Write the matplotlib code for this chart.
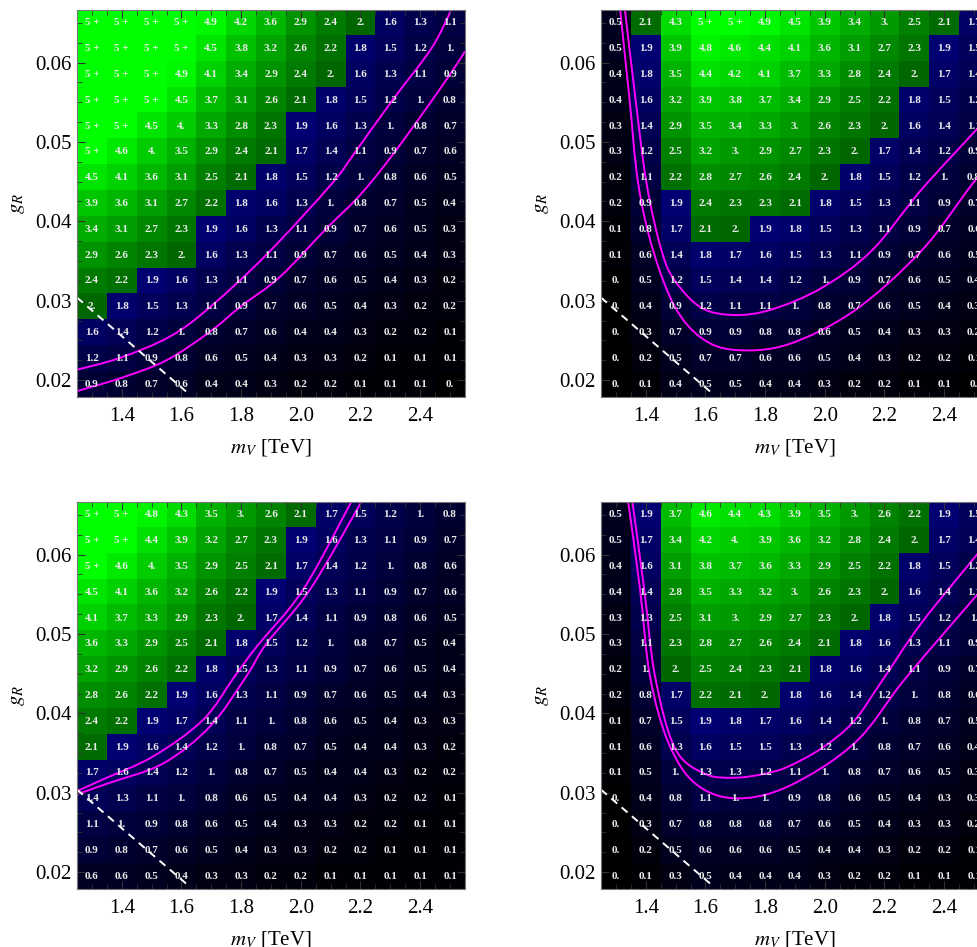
import numpy as np
import matplotlib.pyplot as plt
from matplotlib.path import Path
from matplotlib.patches import PathPatch
from matplotlib.ticker import MultipleLocator, FormatStrFormatter

plt.rcParams['font.family'] = 'Liberation Serif'
plt.rcParams['mathtext.fontset'] = 'stix'

P = 5.5  # cells printed as "5 +"

# column centres (m_V in TeV) and row centres (g_R), top row first
m_V = [1.3, 1.4, 1.5, 1.6, 1.7, 1.8, 1.9, 2.0, 2.1, 2.2, 2.3, 2.4, 2.5]
g_R = [0.065, 0.06175, 0.0585, 0.05525, 0.052, 0.04875, 0.0455, 0.04225,
       0.039, 0.03575, 0.0325, 0.02925, 0.026, 0.02275, 0.0195]

tl_vals = [
    [P, P, P, P, 4.9, 4.2, 3.6, 2.9, 2.4, 2.0, 1.6, 1.3, 1.1],
    [P, P, P, P, 4.5, 3.8, 3.2, 2.6, 2.2, 1.8, 1.5, 1.2, 1.0],
    [P, P, P, 4.9, 4.1, 3.4, 2.9, 2.4, 2.0, 1.6, 1.3, 1.1, 0.9],
    [P, P, P, 4.5, 3.7, 3.1, 2.6, 2.1, 1.8, 1.5, 1.2, 1.0, 0.8],
    [P, P, 4.5, 4.0, 3.3, 2.8, 2.3, 1.9, 1.6, 1.3, 1.0, 0.8, 0.7],
    [P, 4.6, 4.0, 3.5, 2.9, 2.4, 2.1, 1.7, 1.4, 1.1, 0.9, 0.7, 0.6],
    [4.5, 4.1, 3.6, 3.1, 2.5, 2.1, 1.8, 1.5, 1.2, 1.0, 0.8, 0.6, 0.5],
    [3.9, 3.6, 3.1, 2.7, 2.2, 1.8, 1.6, 1.3, 1.0, 0.8, 0.7, 0.5, 0.4],
    [3.4, 3.1, 2.7, 2.3, 1.9, 1.6, 1.3, 1.1, 0.9, 0.7, 0.6, 0.5, 0.3],
    [2.9, 2.6, 2.3, 2.0, 1.6, 1.3, 1.1, 0.9, 0.7, 0.6, 0.5, 0.4, 0.3],
    [2.4, 2.2, 1.9, 1.6, 1.3, 1.1, 0.9, 0.7, 0.6, 0.5, 0.4, 0.3, 0.2],
    [2.0, 1.8, 1.5, 1.3, 1.1, 0.9, 0.7, 0.6, 0.5, 0.4, 0.3, 0.2, 0.2],
    [1.6, 1.4, 1.2, 1.0, 0.8, 0.7, 0.6, 0.4, 0.4, 0.3, 0.2, 0.2, 0.1],
    [1.2, 1.1, 0.9, 0.8, 0.6, 0.5, 0.4, 0.3, 0.3, 0.2, 0.1, 0.1, 0.1],
    [0.9, 0.8, 0.7, 0.6, 0.4, 0.4, 0.3, 0.2, 0.2, 0.1, 0.1, 0.1, 0.0],
]

tr_vals = [
    [0.5, 2.1, 4.3, P, P, 4.9, 4.5, 3.9, 3.4, 3.0, 2.5, 2.1, 1.7],
    [0.5, 1.9, 3.9, 4.8, 4.6, 4.4, 4.1, 3.6, 3.1, 2.7, 2.3, 1.9, 1.5],
    [0.4, 1.8, 3.5, 4.4, 4.2, 4.1, 3.7, 3.3, 2.8, 2.4, 2.0, 1.7, 1.4],
    [0.4, 1.6, 3.2, 3.9, 3.8, 3.7, 3.4, 2.9, 2.5, 2.2, 1.8, 1.5, 1.2],
    [0.3, 1.4, 2.9, 3.5, 3.4, 3.3, 3.0, 2.6, 2.3, 2.0, 1.6, 1.4, 1.1],
    [0.3, 1.2, 2.5, 3.2, 3.0, 2.9, 2.7, 2.3, 2.0, 1.7, 1.4, 1.2, 0.9],
    [0.2, 1.1, 2.2, 2.8, 2.7, 2.6, 2.4, 2.0, 1.8, 1.5, 1.2, 1.0, 0.8],
    [0.2, 0.9, 1.9, 2.4, 2.3, 2.3, 2.1, 1.8, 1.5, 1.3, 1.1, 0.9, 0.7],
    [0.1, 0.8, 1.7, 2.1, 2.0, 1.9, 1.8, 1.5, 1.3, 1.1, 0.9, 0.7, 0.6],
    [0.1, 0.6, 1.4, 1.8, 1.7, 1.6, 1.5, 1.3, 1.1, 0.9, 0.7, 0.6, 0.5],
    [0.0, 0.5, 1.2, 1.5, 1.4, 1.4, 1.2, 1.0, 0.9, 0.7, 0.6, 0.5, 0.4],
    [0.0, 0.4, 0.9, 1.2, 1.1, 1.1, 1.0, 0.8, 0.7, 0.6, 0.5, 0.4, 0.3],
    [0.0, 0.3, 0.7, 0.9, 0.9, 0.8, 0.8, 0.6, 0.5, 0.4, 0.3, 0.3, 0.2],
    [0.0, 0.2, 0.5, 0.7, 0.7, 0.6, 0.6, 0.5, 0.4, 0.3, 0.2, 0.2, 0.1],
    [0.0, 0.1, 0.4, 0.5, 0.5, 0.4, 0.4, 0.3, 0.2, 0.2, 0.1, 0.1, 0.0],
]

bl_vals = [
    [P, P, 4.8, 4.3, 3.5, 3.0, 2.6, 2.1, 1.7, 1.5, 1.2, 1.0, 0.8],
    [P, P, 4.4, 3.9, 3.2, 2.7, 2.3, 1.9, 1.6, 1.3, 1.1, 0.9, 0.7],
    [P, 4.6, 4.0, 3.5, 2.9, 2.5, 2.1, 1.7, 1.4, 1.2, 1.0, 0.8, 0.6],
    [4.5, 4.1, 3.6, 3.2, 2.6, 2.2, 1.9, 1.5, 1.3, 1.1, 0.9, 0.7, 0.6],
    [4.1, 3.7, 3.3, 2.9, 2.3, 2.0, 1.7, 1.4, 1.1, 0.9, 0.8, 0.6, 0.5],
    [3.6, 3.3, 2.9, 2.5, 2.1, 1.8, 1.5, 1.2, 1.0, 0.8, 0.7, 0.5, 0.4],
    [3.2, 2.9, 2.6, 2.2, 1.8, 1.5, 1.3, 1.1, 0.9, 0.7, 0.6, 0.5, 0.4],
    [2.8, 2.6, 2.2, 1.9, 1.6, 1.3, 1.1, 0.9, 0.7, 0.6, 0.5, 0.4, 0.3],
    [2.4, 2.2, 1.9, 1.7, 1.4, 1.1, 1.0, 0.8, 0.6, 0.5, 0.4, 0.3, 0.3],
    [2.1, 1.9, 1.6, 1.4, 1.2, 1.0, 0.8, 0.7, 0.5, 0.4, 0.4, 0.3, 0.2],
    [1.7, 1.6, 1.4, 1.2, 1.0, 0.8, 0.7, 0.5, 0.4, 0.4, 0.3, 0.2, 0.2],
    [1.4, 1.3, 1.1, 1.0, 0.8, 0.6, 0.5, 0.4, 0.4, 0.3, 0.2, 0.2, 0.1],
    [1.1, 1.0, 0.9, 0.8, 0.6, 0.5, 0.4, 0.3, 0.3, 0.2, 0.2, 0.1, 0.1],
    [0.9, 0.8, 0.7, 0.6, 0.5, 0.4, 0.3, 0.3, 0.2, 0.2, 0.1, 0.1, 0.1],
    [0.6, 0.6, 0.5, 0.4, 0.3, 0.3, 0.2, 0.2, 0.1, 0.1, 0.1, 0.1, 0.1],
]

br_vals = [
    [0.5, 1.9, 3.7, 4.6, 4.4, 4.3, 3.9, 3.5, 3.0, 2.6, 2.2, 1.9, 1.5],
    [0.5, 1.7, 3.4, 4.2, 4.0, 3.9, 3.6, 3.2, 2.8, 2.4, 2.0, 1.7, 1.4],
    [0.4, 1.6, 3.1, 3.8, 3.7, 3.6, 3.3, 2.9, 2.5, 2.2, 1.8, 1.5, 1.2],
    [0.4, 1.4, 2.8, 3.5, 3.3, 3.2, 3.0, 2.6, 2.3, 2.0, 1.6, 1.4, 1.1],
    [0.3, 1.3, 2.5, 3.1, 3.0, 2.9, 2.7, 2.3, 2.0, 1.8, 1.5, 1.2, 1.0],
    [0.3, 1.1, 2.3, 2.8, 2.7, 2.6, 2.4, 2.1, 1.8, 1.6, 1.3, 1.1, 0.9],
    [0.2, 1.0, 2.0, 2.5, 2.4, 2.3, 2.1, 1.8, 1.6, 1.4, 1.1, 0.9, 0.7],
    [0.2, 0.8, 1.7, 2.2, 2.1, 2.0, 1.8, 1.6, 1.4, 1.2, 1.0, 0.8, 0.6],
    [0.1, 0.7, 1.5, 1.9, 1.8, 1.7, 1.6, 1.4, 1.2, 1.0, 0.8, 0.7, 0.5],
    [0.1, 0.6, 1.3, 1.6, 1.5, 1.5, 1.3, 1.2, 1.0, 0.8, 0.7, 0.6, 0.4],
    [0.1, 0.5, 1.0, 1.3, 1.3, 1.2, 1.1, 1.0, 0.8, 0.7, 0.6, 0.5, 0.3],
    [0.0, 0.4, 0.8, 1.1, 1.0, 1.0, 0.9, 0.8, 0.6, 0.5, 0.4, 0.3, 0.3],
    [0.0, 0.3, 0.7, 0.8, 0.8, 0.8, 0.7, 0.6, 0.5, 0.4, 0.3, 0.3, 0.2],
    [0.0, 0.2, 0.5, 0.6, 0.6, 0.6, 0.5, 0.4, 0.4, 0.3, 0.2, 0.2, 0.1],
    [0.0, 0.1, 0.3, 0.5, 0.4, 0.4, 0.4, 0.3, 0.2, 0.2, 0.1, 0.1, 0.1],
]

# magenta contours
tl_c1_x = [1.249, 1.394, 1.562, 1.696, 1.885, 2.103, 2.18, 2.308, 2.438, 2.505]
tl_c1_y = [0.0213, 0.0228, 0.0255, 0.0292, 0.0358, 0.0447, 0.0486, 0.0553, 0.0618, 0.0667]
tl_c2_x = [1.249, 1.40, 1.55, 1.696, 1.796, 1.93, 2.086, 2.176, 2.237, 2.30, 2.388, 2.50, 2.55]
tl_c2_y = [0.0186, 0.0203, 0.0225, 0.0261, 0.0292, 0.0330, 0.0391, 0.0424, 0.0450, 0.0480, 0.0525, 0.0585, 0.0614]

tr_c1_x = [1.330, 1.365, 1.403, 1.453, 1.498, 1.587, 1.698, 1.822, 1.989, 2.157, 2.324, 2.514, 2.55]
tr_c1_y = [0.0667, 0.0556, 0.0447, 0.0363, 0.0325, 0.0291, 0.0282, 0.0289, 0.0316, 0.0363, 0.0440, 0.0518, 0.0535]
tr_c2_x = [1.314, 1.345, 1.375, 1.425, 1.498, 1.587, 1.699, 1.877, 2.101, 2.324, 2.48, 2.55]
tr_c2_y = [0.0667, 0.0556, 0.0447, 0.0363, 0.0292, 0.0253, 0.0238, 0.0245, 0.0288, 0.0363, 0.0440, 0.0475]

bl_c1_x = [1.249, 1.338, 1.506, 1.673, 1.779, 1.852, 2.008, 2.170]
bl_c1_y = [0.0302, 0.0317, 0.0346, 0.0392, 0.0447, 0.0484, 0.0556, 0.0667]
bl_c2_x = [1.249, 1.355, 1.539, 1.697, 1.818, 1.885, 2.031, 2.204]
bl_c2_y = [0.0298, 0.0312, 0.0337, 0.0384, 0.0447, 0.0488, 0.0556, 0.0667]

br_c1_x = [1.355, 1.395, 1.431, 1.498, 1.598, 1.699, 1.799, 1.877, 1.989, 2.095, 2.19, 2.324, 2.514, 2.55]
br_c1_y = [0.0667, 0.0556, 0.0447, 0.0356, 0.0324, 0.0319, 0.0324, 0.0333, 0.0356, 0.0389, 0.0440, 0.0514, 0.0602, 0.0620]
br_c2_x = [1.341, 1.381, 1.414, 1.476, 1.565, 1.699, 1.877, 2.101, 2.27, 2.514, 2.55]
br_c2_y = [0.0667, 0.0556, 0.0447, 0.0363, 0.0312, 0.0293, 0.0308, 0.0363, 0.0444, 0.0551, 0.0567]

# white dashed line (same in all panels)
dash_x = [1.25, 1.63]
dash_y = [0.0304, 0.0181]

panels = [
    (tl_vals, [(tl_c1_x, tl_c1_y), (tl_c2_x, tl_c2_y)], [0.0787, 0.5808, 0.3967, 0.4087]),
    (tr_vals, [(tr_c1_x, tr_c1_y), (tr_c2_x, tr_c2_y)], [0.6145, 0.5808, 0.3967, 0.4087]),
    (bl_vals, [(bl_c1_x, bl_c1_y), (bl_c2_x, bl_c2_y)], [0.0787, 0.0612, 0.3967, 0.4087]),
    (br_vals, [(br_c1_x, br_c1_y), (br_c2_x, br_c2_y)], [0.6145, 0.0612, 0.3967, 0.4087]),
]

dx = 0.1
dy = 0.00325
x0, x1 = m_V[0] - dx / 2, m_V[-1] + dx / 2
y0, y1 = g_R[-1] - dy / 2, g_R[0] + dy / 2


def cell_label(v):
    if v >= 5:
        return "5 +"
    s = "%.1f" % v
    if s.endswith(".0"):
        s = s[:-1]
    return s


def cell_colours(vals):
    v = np.array(vals, dtype=float)
    rgb = np.zeros(v.shape + (3,))
    green = v >= 2
    rgb[..., 1] = np.where(green, np.clip(v / 5, 0, 1), 0)
    rgb[..., 2] = np.where(green, 0, np.clip(v / 4.2, 0, 1))
    return rgb


def smooth_path(xs, ys):
    # Catmull-Rom through the read points, drawn as cubic Bezier segments
    p = np.column_stack([xs, ys])
    ext = np.vstack([p[0], p, p[-1]])
    verts = [p[0]]
    codes = [Path.MOVETO]
    for i in range(1, len(ext) - 2):
        a, b, c, d = ext[i - 1], ext[i], ext[i + 1], ext[i + 2]
        verts += [b + (c - a) / 6, c - (d - b) / 6, c]
        codes += [Path.CURVE4] * 3
    return Path(verts, codes)


fig = plt.figure(figsize=(9.78, 9.47), dpi=100)

for vals, curves, pos in panels:
    ax = fig.add_axes(pos)
    ax.imshow(cell_colours(vals), extent=[x0, x1, y0, y1], aspect='auto',
              interpolation='nearest', origin='upper')
    for i, gy in enumerate(g_R):
        for j, mx in enumerate(m_V):
            ax.text(mx, gy, cell_label(vals[i][j]), ha='center', va='center',
                    color='#ececec', fontsize=8, fontweight='bold')
    for cx, cy in curves:
        ax.add_patch(PathPatch(smooth_path(cx, cy), fill=False,
                               edgecolor='#ff00ff', lw=1.4))
    ax.plot(dash_x, dash_y, color='white', lw=1.4, ls=(0, (4, 3)))
    ax.set_xlim(x0, x1)
    ax.set_ylim(y0, y1)

    ax.xaxis.set_major_locator(MultipleLocator(0.2))
    ax.xaxis.set_minor_locator(MultipleLocator(0.05))
    ax.yaxis.set_major_locator(MultipleLocator(0.01))
    ax.yaxis.set_minor_locator(MultipleLocator(0.0025))
    ax.xaxis.set_major_formatter(FormatStrFormatter('%.1f'))
    ax.yaxis.set_major_formatter(FormatStrFormatter('%.2f'))
    ax.tick_params(which='both', direction='in', top=True, right=True,
                   color='#333333', labelsize=15)
    ax.tick_params(which='major', length=6, width=0.8)
    ax.tick_params(which='minor', length=3.5, width=0.6)
    ax.tick_params(axis='x', pad=7)
    ax.tick_params(axis='y', pad=4)
    for sp in ax.spines.values():
        sp.set_color('#777777')
        sp.set_linewidth(0.8)

    ax.set_xlabel('$m_V$ [TeV]', fontsize=15, labelpad=8)
    ax.set_ylabel('$g_R$', fontsize=15, labelpad=6)

fig.savefig('out.png', dpi=100)
